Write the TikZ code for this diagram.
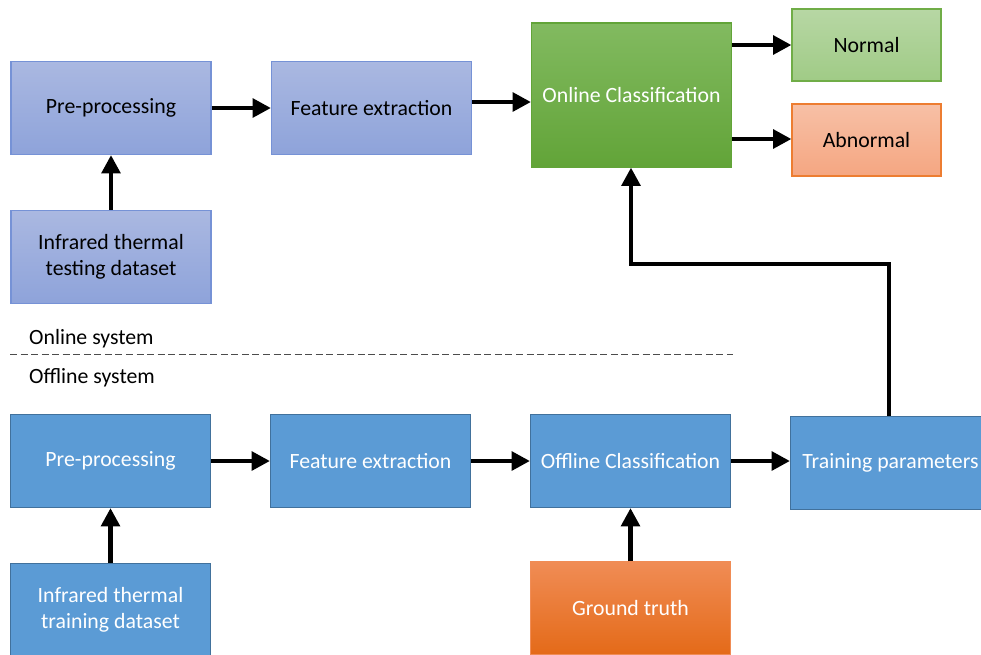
\documentclass[tikz,border=0pt]{standalone}
\usepackage{fontspec}
\setmainfont{Carlito}
\usetikzlibrary{arrows.meta}
\definecolor{lavTop}{RGB}{170,184,225}
\definecolor{lavBot}{RGB}{142,163,218}
\definecolor{lavLine}{RGB}{118,146,214}
\definecolor{grnTop}{RGB}{130,186,96}
\definecolor{grnBot}{RGB}{98,164,56}
\definecolor{nrmTop}{RGB}{183,215,164}
\definecolor{nrmBot}{RGB}{160,203,134}
\definecolor{nrmLine}{RGB}{112,173,71}
\definecolor{abnTop}{RGB}{247,192,166}
\definecolor{abnBot}{RGB}{245,166,129}
\definecolor{abnLine}{RGB}{237,125,49}
\definecolor{offFill}{RGB}{91,155,213}
\definecolor{offLine}{RGB}{65,113,156}
\definecolor{gtTop}{RGB}{240,140,85}
\definecolor{gtBot}{RGB}{228,106,24}
\tikzset{block/.style={rectangle,minimum width=4cm,minimum height=1.86cm,align=center,
  inner sep=2pt,line width=.6pt,font=\fontsize{12.4}{14.8}\selectfont},
 onbox/.style={block,top color=lavTop,bottom color=lavBot,draw=lavLine},
 offbox/.style={block,fill=offFill,draw=offLine,text=white},
 flow/.style={line width=2.8pt,-{Triangle[length=10.5pt,width=10.5pt]}},
 every picture/.style={line join=miter}}

\begin{document}
\begin{tikzpicture}[x=0.02cm,y=-0.02cm]
\useasboundingbox (0,0) rectangle (981,654);
\node[onbox] (pre1) at (111,108) {Pre-processing};
\node[onbox] (feat1) at (371.5,108) {Feature extraction};
\node[onbox] (test) at (111,257) {Infrared thermal\\testing dataset};
\node[block,top color=grnTop,bottom color=grnBot,draw=grnBot,text=white,
 minimum height=2.88cm] (online) at (631.5,95) {Online Classification};
\node[block,minimum width=2.98cm,minimum height=1.44cm,top color=nrmTop,bottom color=nrmBot,
 draw=nrmLine] (normal) at (866.5,45) {Normal};
\node[block,minimum width=2.98cm,minimum height=1.44cm,top color=abnTop,bottom color=abnBot,
 draw=abnLine] (abnormal) at (866.5,140) {Abnormal};
\node[anchor=west,font=\fontsize{12.4}{14.8}\selectfont] (ontxt) at (23,339) {Online system};
\node[anchor=west,font=\fontsize{12.4}{14.8}\selectfont] (offtxt) at (23,378) {Offline system};
\draw[dashed,dash pattern=on 4pt off 2pt,line width=.5pt,black!70] (10,354) -- (733,354);
\node[offbox] (pre2) at (110.5,461) {Pre-processing};
\node[offbox] (feat2) at (370.5,461) {Feature extraction};
\node[offbox] (offline) at (630.5,461) {Offline Classification};
\node[offbox] (train) at (890.5,463) {Training parameters};
\node[offbox] (trainset) at (110.5,610) {Infrared thermal\\training dataset};
\node[block,top color=gtTop,bottom color=gtBot,draw=gtTop,text=white] (truth) at (630.5,608.5) {Ground truth};
\coordinate (turn) at (631,264);
% online flow
\draw[flow] (pre1) -- (feat1);
\draw[flow] (feat1.east |- 0,102) -- (online.west |- 0,102);
\draw[flow] (online.east |- 0,45) -- (normal);
\draw[flow] (online.east |- 0,139) -- (abnormal.west |- 0,139);
\draw[flow] (test) -- (pre1);
% offline flow
\draw[flow] (pre2) -- (feat2);
\draw[flow] (feat2) -- (offline);
\draw[flow] (offline) -- (train.west |- offline);
\draw[flow] (trainset) -- (pre2);
\draw[flow] (truth) -- (offline);
\draw[flow] (train.north -| 889,0) |- (turn) -- (online.south -| turn);
\end{tikzpicture}
\end{document}
